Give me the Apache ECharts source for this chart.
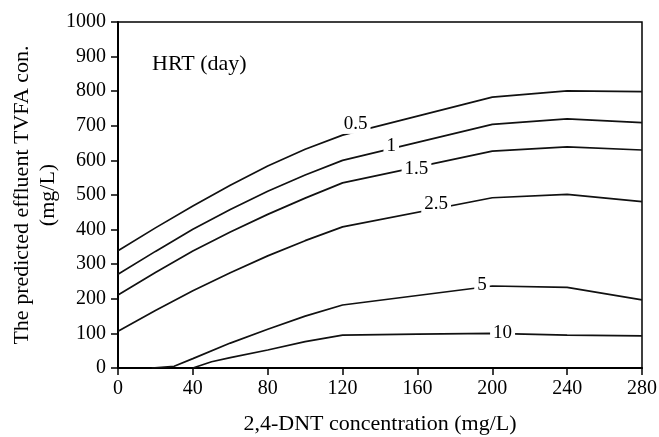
<!DOCTYPE html>
<html>
<head>
<meta charset="utf-8">
<script src="https://cdn.jsdelivr.net/npm/echarts@6/dist/echarts.min.js"></script>
<style>
html,body{margin:0;padding:0;background:#fff;}
#c{width:659px;height:437px;}
</style>
</head>
<body>
<div id="c"></div>
<script>
// Data
const xMain = [0, 20, 40, 60, 80, 100, 120, 200, 240, 280];
const hrt05 = [339, 405, 468, 528, 584, 632, 673, 783, 801, 799];
const hrt1  = [271, 337, 401, 458, 511, 558, 600, 704, 720, 709];
const hrt15 = [211, 276, 338, 393, 444, 491, 535, 627, 639, 630];
const hrt25 = [106, 166, 223, 275, 324, 368, 408, 492, 502, 481];
const x5    = [18, 30, 40, 60, 80, 100, 120, 200, 240, 280];
const hrt5  = [0, 5, 27, 72, 112, 150, 182, 237, 233, 197];
const x10   = [40, 50, 60, 80, 100, 120, 160, 200, 240, 280];
const hrt10 = [0, 18, 30, 52, 76, 95, 98, 100, 95, 93];

const contourNames = ['0.5', '1', '1.5', '2.5', '5', '10'];
const labelX = [127, 146, 159.5, 170, 194.5, 205.5];
const labelY = [704, 641, 575, 474, 240, 101];

const xTicks = [0, 40, 80, 120, 160, 200, 240, 280];
const yTicks = [0, 100, 200, 300, 400, 500, 600, 700, 800, 900, 1000];

const font = 'Liberation Serif';
const ink = '#000';

function pairs(xs, ys) { return xs.map((x, i) => [x, ys[i]]); }

const curves = [
  pairs(xMain, hrt05), pairs(xMain, hrt1), pairs(xMain, hrt15),
  pairs(xMain, hrt25), pairs(x5, hrt5), pairs(x10, hrt10)
];

const series = curves.map((d, i) => ({
  name: 'HRT ' + contourNames[i],
  type: 'line',
  data: d,
  showSymbol: false,
  symbol: 'none',
  lineStyle: { color: '#111', width: 1.7 },
  z: 2,
  silent: true
}));

series.push({
  type: 'scatter',
  symbolSize: 0,
  z: 5,
  silent: true,
  itemStyle: { color: ink, opacity: 1 },
  data: labelX.map((x, i) => ({ value: [x, labelY[i]], name: contourNames[i] })),
  label: {
    show: true,
    position: 'inside',
    formatter: p => p.name,
    fontFamily: font,
    fontSize: 19,
    color: ink,
    opacity: 1,
    textBorderWidth: 0,
    textBorderColor: 'transparent',
    backgroundColor: '#fff',
    padding: [0, 3, 0, 3]
  }
});

const chart = echarts.init(document.getElementById('c'), null, { renderer: 'canvas' });
chart.setOption({
  animation: false,
  backgroundColor: '#fff',
  grid: {
    left: 118, right: 17, top: 22, bottom: 69,
    outerBoundsMode: 'none',
    containLabel: false,
    show: true, borderColor: ink, borderWidth: 1.5, backgroundColor: 'transparent'
  },
  graphic: [{
    type: 'text',
    left: 152,
    top: 53,
    style: { text: 'HRT (day)', font: '22px "Liberation Serif"', fill: ink }
  }],
  xAxis: {
    type: 'value',
    min: xTicks[0], max: xTicks[xTicks.length - 1], interval: 40,
    name: '2,4-DNT concentration (mg/L)',
    nameLocation: 'middle',
    nameGap: 45,
    nameMoveOverlap: false,
    nameTextStyle: { fontFamily: font, fontSize: 22, color: ink },
    axisLine: { show: true, lineStyle: { color: ink, width: 2 } },
    axisTick: { show: true, inside: false, length: 7, lineStyle: { color: ink, width: 1.5 } },
    axisLabel: { fontFamily: font, fontSize: 20, color: ink, margin: 11, formatter: v => String(v) },
    splitLine: { show: false }
  },
  yAxis: {
    type: 'value',
    min: yTicks[0], max: yTicks[yTicks.length - 1], interval: 100,
    name: 'The predicted effluent TVFA con.\n(mg/L)',
    nameLocation: 'middle',
    nameRotate: 90,
    nameGap: 57,
    nameMoveOverlap: false,
    nameTextStyle: { fontFamily: font, fontSize: 22, color: ink, lineHeight: 26 },
    axisLine: { show: true, lineStyle: { color: ink, width: 2 } },
    axisTick: { show: true, inside: false, length: 7, lineStyle: { color: ink, width: 1.5 } },
    axisLabel: { fontFamily: font, fontSize: 20, color: ink, margin: 12, formatter: v => String(v) },
    splitLine: { show: false }
  },
  series: series
});
</script>
</body>
</html>
